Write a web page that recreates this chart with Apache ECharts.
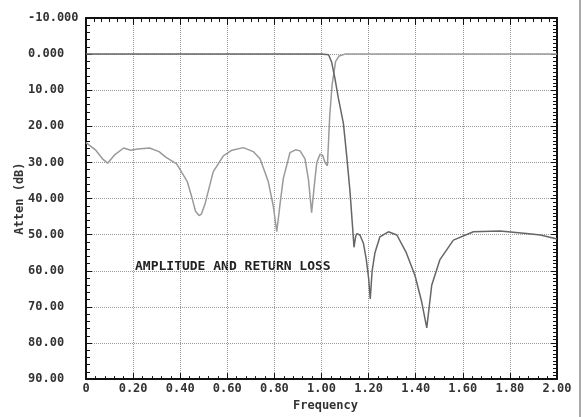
<!DOCTYPE html>
<html>
<head>
<meta charset="utf-8">
<script src="https://cdn.jsdelivr.net/npm/echarts@6/dist/echarts.min.js"></script>
<style>
  html, body { margin: 0; padding: 0; background: #fff; }
  #main { width: 585px; height: 417px; }
</style>
</head>
<body>
<div id="main"></div>
<script>
// tick labels
var xTickLabels = ['0', '0.20', '0.40', '0.60', '0.80', '1.00', '1.20', '1.40', '1.60', '1.80', '2.00']
var yTickLabels = ['-10.000', '0.000', '10.00', '20.00', '30.00', '40.00', '50.00', '60.00', '70.00', '80.00', '90.00']

// amplitude curve (dark line)
var ampFreq = [0, 1.0, 1.03, 1.043, 1.057, 1.071, 1.093, 1.107, 1.121, 1.132, 1.138, 1.145, 1.15, 1.163, 1.178, 1.19, 1.2, 1.207, 1.215, 1.227, 1.248, 1.284, 1.32, 1.36, 1.397, 1.425, 1.447, 1.468, 1.503, 1.56, 1.645, 1.758, 1.87, 1.93, 2.0]
var ampLoss = [0, 0, 0.2, 2.2, 6.7, 12, 19.2, 28.2, 38, 47.9, 53.5, 50.5, 49.7, 50.1, 52.4, 56.8, 62, 67.8, 60, 55, 50.6, 49.2, 50.1, 55, 61.3, 68.5, 75.8, 64, 56.9, 51.5, 49.2, 49, 49.7, 50.1, 51.2]

// return loss curve (light line)
var rlFreq = [0, 0.04, 0.07, 0.092, 0.12, 0.16, 0.19, 0.22, 0.27, 0.31, 0.34, 0.385, 0.43, 0.45, 0.465, 0.48, 0.49, 0.505, 0.54, 0.583, 0.62, 0.668, 0.71, 0.739, 0.774, 0.795, 0.81, 0.825, 0.838, 0.866, 0.89, 0.909, 0.93, 0.945, 0.958, 0.97, 0.98, 0.994, 1.005, 1.015, 1.025, 1.03, 1.035, 1.045, 1.06, 1.075, 1.1, 2.0]
var rlLoss = [24.5, 26.5, 29, 30.2, 28, 26, 26.6, 26.3, 26, 27, 28.6, 30.4, 35.3, 39.8, 43.5, 44.7, 44.3, 41.6, 32.6, 28.2, 26.6, 25.9, 27, 29, 35.3, 42, 49.2, 41, 34.4, 27.3, 26.5, 26.8, 29, 35, 43.9, 36, 30, 27.7, 28, 30, 30.9, 24, 17, 8.5, 2, 0.5, 0, 0]

function zip (xs, ys) {
  var out = []
  for (var i = 0; i < xs.length; i++) out.push([xs[i], ys[i]])
  return out
}

var labelFont = { fontFamily: 'DejaVu Sans Mono', fontWeight: 'bold', fontSize: 12, color: '#333' }
var gridLine = { show: true, lineStyle: { color: '#999', type: 'dotted', width: 1 } }
var frame = { show: true, onZero: false, lineStyle: { color: '#111', width: 2 } }

var myChart = echarts.init(document.getElementById('main'))
myChart.setOption({
  backgroundColor: '#fff',
  animation: false,
  grid: { left: 86, right: 28, top: 18, bottom: 27 },
  xAxis: [{
    type: 'value',
    position: 'bottom',
    min: 0,
    max: 2,
    interval: 0.2,
    name: 'Frequency',
    nameLocation: 'middle',
    nameGap: 16,
    nameTextStyle: Object.assign({}, labelFont, { padding: [0, 0, 0, 8] }),
    axisLine: frame,
    axisTick: { show: true, inside: true, length: 6, lineStyle: { color: '#111', width: 1 } },
    minorTick: { show: true, splitNumber: 5, length: 3, lineStyle: { color: '#111' } },
    axisLabel: {
      margin: 4,
      formatter: function (v) { return xTickLabels[Math.round(v / 0.2)] },
      fontFamily: labelFont.fontFamily,
      fontWeight: labelFont.fontWeight,
      fontSize: labelFont.fontSize,
      color: labelFont.color
    },
    splitLine: gridLine
  }, {
    type: 'value',
    position: 'top',
    min: 0,
    max: 2,
    interval: 0.2,
    axisLine: frame,
    axisTick: { show: true, inside: true, length: 7, lineStyle: { color: '#111', width: 1 } },
    minorTick: { show: true, splitNumber: 6, length: 4, lineStyle: { color: '#111' } },
    axisLabel: { show: false },
    splitLine: { show: false }
  }],
  yAxis: [{
    type: 'value',
    position: 'left',
    inverse: true,
    min: -10,
    max: 90,
    interval: 10,
    name: 'Atten (dB)',
    nameLocation: 'middle',
    nameGap: 60,
    nameMoveOverlap: false,
    nameTextStyle: labelFont,
    axisLine: frame,
    axisTick: { show: true, inside: true, length: 6, lineStyle: { color: '#111', width: 1 } },
    minorTick: { show: true, splitNumber: 5, length: 4, lineStyle: { color: '#111' } },
    axisLabel: {
      align: 'left',
      margin: 58,
      formatter: function (v) { return yTickLabels[Math.round((v + 10) / 10)] },
      fontFamily: labelFont.fontFamily,
      fontWeight: labelFont.fontWeight,
      fontSize: labelFont.fontSize,
      color: labelFont.color
    },
    splitLine: gridLine
  }, {
    type: 'value',
    position: 'right',
    inverse: true,
    min: -10,
    max: 90,
    interval: 10,
    axisLine: frame,
    axisTick: { show: true, inside: true, length: 6, lineStyle: { color: '#111', width: 1 } },
    minorTick: { show: true, splitNumber: 10, length: 4, lineStyle: { color: '#111' } },
    axisLabel: { show: false },
    splitLine: { show: false }
  }],
  graphic: [{
    type: 'text',
    left: 135,
    top: 260,
    style: {
      text: 'AMPLITUDE AND RETURN LOSS',
      font: 'bold 13px "DejaVu Sans Mono"',
      fill: '#222'
    }
  }, {
    type: 'rect',
    left: 579,
    top: 0,
    shape: { width: 2, height: 417 },
    style: { fill: '#aaa' }
  }],
  series: [{
    name: 'Return loss',
    type: 'line',
    data: zip(rlFreq, rlLoss),
    showSymbol: false,
    lineStyle: { color: '#9a9a9a', width: 1.5 }
  }, {
    name: 'Amplitude',
    type: 'line',
    data: zip(ampFreq, ampLoss),
    showSymbol: false,
    lineStyle: { color: '#666', width: 1.5 }
  }]
})
</script>
</body>
</html>
